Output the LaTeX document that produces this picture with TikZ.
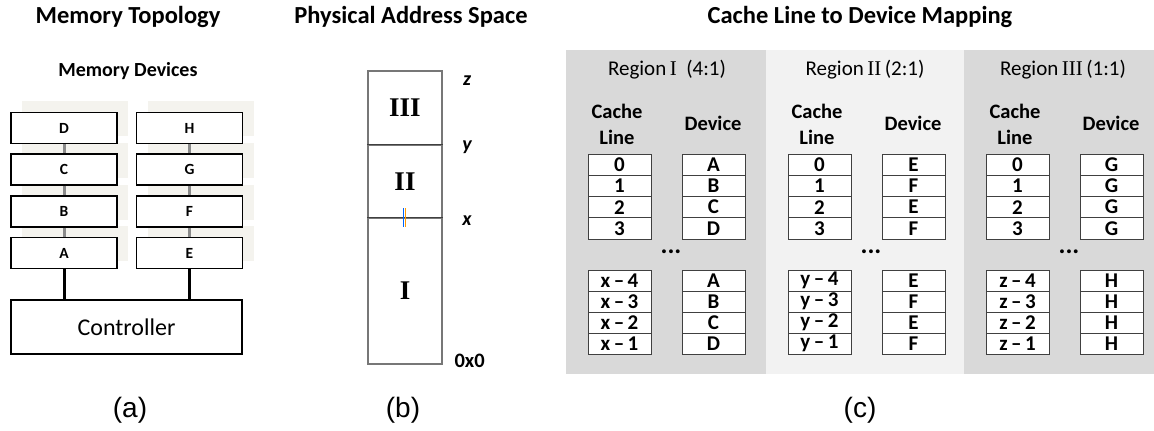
\documentclass[tikz,border=0pt]{standalone}
\usepackage{fontspec}
\setmainfont{Carlito}
\newfontfamily\serifroman{Liberation Serif}
\newfontfamily\arialf{Liberation Sans}
\definecolor{regdark}{HTML}{D9D9D9}
\definecolor{reglight}{HTML}{F2F2F2}
\definecolor{shadowc}{HTML}{F4F3EE}
\definecolor{tabline}{HTML}{404040}
\definecolor{pasline}{HTML}{777777}
\definecolor{linkgray}{HTML}{8A8A8A}
\tikzset{
  paneltitle/.style={font=\bfseries\fontsize{24.5}{28}\selectfont},
  subtitle/.style={font=\bfseries\fontsize{20}{24}\selectfont},
  devbox/.style={draw=black, line width=1.4pt, fill=white, minimum width=106pt, minimum height=31pt, inner sep=0pt, font=\bfseries\fontsize{15.5}{17}\selectfont},
  ctrlbox/.style={draw=black, line width=1.4pt, fill=white, minimum width=231pt, minimum height=54pt, inner sep=0pt, font=\fontsize{24}{28}\selectfont},
  graylink/.style={draw=linkgray, line width=3pt},
  blacklink/.style={draw=black, line width=3pt},
  pasbox/.style={draw=pasline, line width=1.1pt, minimum width=74pt, inner sep=0pt, font=\serifroman\bfseries\fontsize{27}{30}\selectfont},
  boundlabel/.style={font=\bfseries\itshape\fontsize{20}{22}\selectfont},
  caption/.style={font=\arialf\fontsize{28}{32}\selectfont},
  regionhead/.style={font=\fontsize{21}{24}\selectfont},
  colhead/.style={font=\bfseries\fontsize{20.5}{26}\selectfont, align=center},
  cell/.style={draw=tabline, line width=0.8pt, fill=white, minimum width=63pt, inner sep=0pt, font=\bfseries\fontsize{21}{22}\selectfont},
  dots/.style={font=\bfseries\fontsize{26}{28}\selectfont}
}
\begin{document}
\begin{tikzpicture}[x=1pt,y=-1pt]
\useasboundingbox (0,0) rectangle (1154,431);
\fill[white] (0,0) rectangle (1154,431);

% ---------------- panel (a)
\node[paneltitle] (ta) at (128,17) {Memory Topology};
\node[subtitle] (md) at (128,71) {Memory Devices};
\foreach \cx in {11,137}
  \foreach \cy in {113,154.5,196.5,238}
    \fill[shadowc] (\cx+11,\cy-12) rectangle +(106,35);
\node[devbox] (D) at (64,128) {D};
\node[devbox] (C) at (64,169.5) {C};
\node[devbox] (B) at (64,211.5) {B};
\node[devbox] (A) at (64,253) {A};
\node[devbox] (H) at (189.5,128) {H};
\node[devbox] (G) at (189.5,169.5) {G};
\node[devbox] (F) at (189.5,211.5) {F};
\node[devbox] (E) at (189.5,253) {E};
\node[ctrlbox] (ctrl) at (126.5,327) {Controller};
\draw[graylink] (D.south) -- (C.north);
\draw[graylink] (C.south) -- (B.north);
\draw[graylink] (B.south) -- (A.north);
\draw[graylink] (H.south) -- (G.north);
\draw[graylink] (G.south) -- (F.north);
\draw[graylink] (F.south) -- (E.north);
\draw[blacklink] (A.south) -- (A.south |- ctrl.north);
\draw[blacklink] (E.south) -- (E.south |- ctrl.north);
\node[caption] (capa) at (130,410) {(a)};

% ---------------- panel (b)
\node[paneltitle] (tb) at (411,17) {Physical Address Space};
\node[pasbox, minimum height=74pt] (p3) at (405,108) {III};
\node[pasbox, minimum height=73pt] (p2) at (405,181.5) {II};
\node[pasbox, minimum height=146pt] (p1) at (405,291) {I};
\draw[draw=black!75, line width=1.1pt] (p2.north west) -- (p2.north east);
\draw[draw=black!75, line width=1.1pt] (p1.north west) -- (p1.north east);
\draw[draw=blue!60!cyan, line width=0.9pt] (403,208) -- (403,227);
\draw[draw=orange!80!yellow, line width=0.6pt] (405.3,208) -- (405.3,227);
\node[boundlabel] (lz) at (467,81) {z};
\node[boundlabel] (ly) at (467,147) {y};
\node[boundlabel] (lx) at (467,221) {x};
\node[font=\bfseries\fontsize{20.5}{22}\selectfont, anchor=west] (l0) at (451,361) {0x0};
\node[caption] (capb) at (403,410) {(b)};

% ---------------- panel (c)
\node[paneltitle] (tc) at (860,17) {Cache Line to Device Mapping};
\fill[regdark] (566,50) rectangle (766,374);
\fill[reglight] (766,50) rectangle (964,374);
\fill[regdark] (964,50) rectangle (1154,374);

\foreach \r/\L/\hx/\head/\v/\da/\db/\dc/\dd/\ea/\eb/\ec/\ed in {
  1/566/101/{Region\,{\serifroman I}\ \ (4:1)}/x/A/B/C/D/A/B/C/D,
  2/766/99/{Region\,{\serifroman II}\,(2:1)}/y/E/F/E/F/E/F/E/F,
  3/964/99/{Region\,{\serifroman III}\,(1:1)}/z/G/G/G/G/H/H/H/H}{
  \node[regionhead] (h\r) at (\L+\hx,70) {\head};
  \node[colhead] (cl\r) at (\L+51,124) {Cache\\Line};
  \node[colhead] (dv\r) at (\L+147,123) {Device};
  \foreach \i/\t in {0/0,1/1,2/2,3/3}
    \node[cell, minimum height=21.25pt] (ct\r-\i) at (\L+53.5,{154+21.25*(\i+0.5)}) {\t};
  \foreach \i/\t in {0/\da,1/\db,2/\dc,3/\dd}
    \node[cell, minimum height=21.25pt] (dt\r-\i) at (\L+147.5,{154+21.25*(\i+0.5)}) {\t};
  \foreach \i/\t in {0/4,1/3,2/2,3/1}
    \node[cell, minimum height=21pt] (cb\r-\i) at (\L+53.5,{270+21*(\i+0.5)}) {\v\,–\,\t};
  \foreach \i/\t in {0/\ea,1/\eb,2/\ec,3/\ed}
    \node[cell, minimum height=21pt] (db\r-\i) at (\L+147.5,{270+21*(\i+0.5)}) {\t};
  \node[dots] (dd\r) at (\L+105,252) {...};
}
\node[caption] (capc) at (860,410) {(c)};
\end{tikzpicture}
\end{document}
